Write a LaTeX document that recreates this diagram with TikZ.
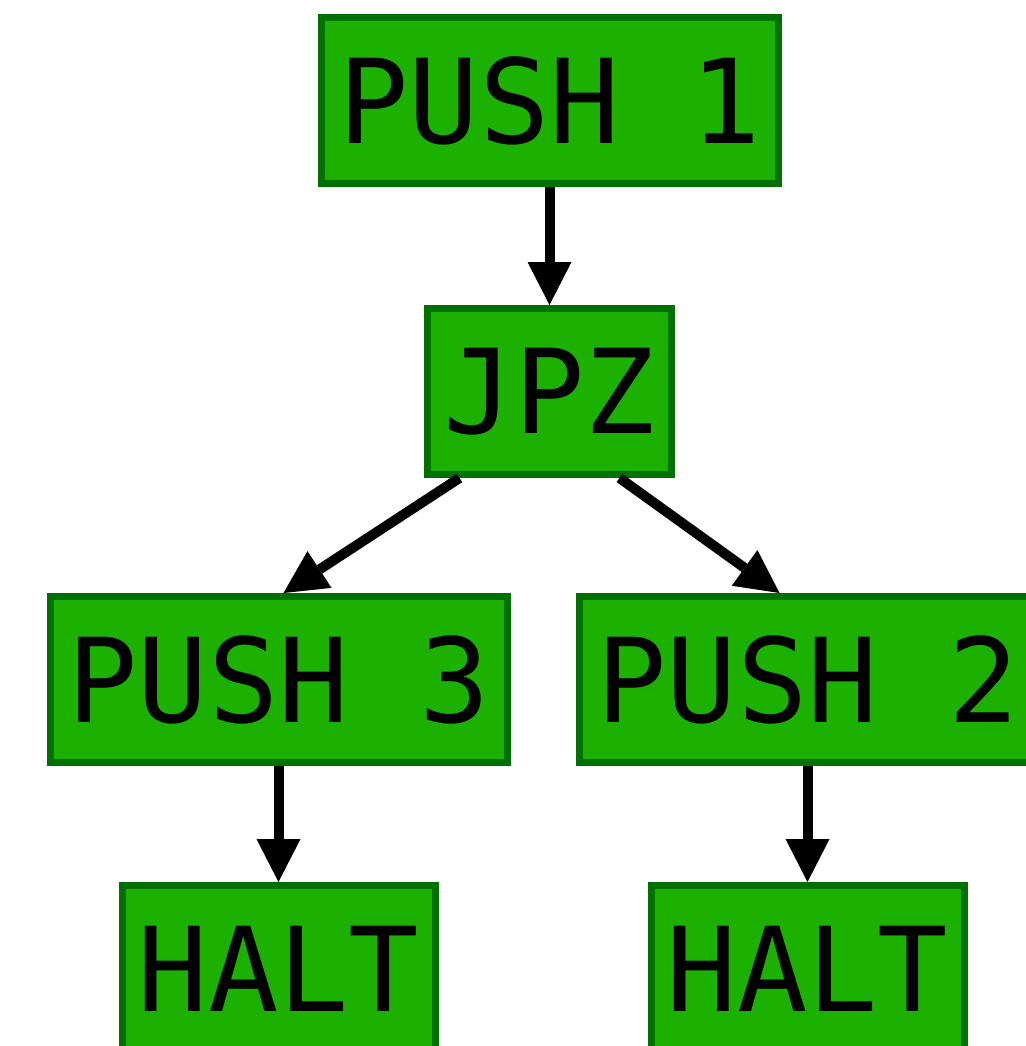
\documentclass[tikz,border=0pt]{standalone}
\usepackage{fontspec}
\newfontfamily\opfont{DejaVu Sans Mono}
\usetikzlibrary{positioning,arrows.meta}
\definecolor{opfill}{HTML}{1CB100}
\definecolor{opline}{HTML}{007000}
\tikzset{
  op/.style={draw=opline, line width=7pt, fill=opfill, text=black,
    minimum height=166pt, inner xsep=0pt, inner ysep=0pt,
    font=\opfont\fontsize{117pt}{117pt}\selectfont},
  arr/.style={-{Triangle[length=43pt,width=44pt,line width=0pt]}, line width=10pt, color=black},
}

\begin{document}
\begin{tikzpicture}[x=1pt,y=1pt]
  \useasboundingbox (0,0) rectangle (1025,-1046);
  % instruction nodes, one rank per row
  \node[op, minimum width=457pt] (push1) at (549.5,-100.5) {PUSH 1};
  \node[op, minimum width=244pt, below=118pt of push1] (jpz) {JPZ};
  \node[op, minimum width=457pt] (push3) at (278.5,-679.5) {PUSH 3};
  \node[op, minimum width=457pt, right=65pt of push3] (push2) {PUSH 2};
  \node[op, minimum width=313pt, below=116pt of push3] (halt3) {HALT};
  \node[op, minimum width=313pt, below=116pt of push2] (halt2) {HALT};
  % control flow
  \draw[arr] (push1) -- (jpz);
  \draw[arr] ([xshift=-90pt]jpz.south) -- ([xshift=5pt]push3.north);
  \draw[arr] ([xshift=70pt]jpz.south) -- ([xshift=-28pt]push2.north);
  \draw[arr] (push3) -- (halt3);
  \draw[arr] (push2) -- (halt2);
\end{tikzpicture}
\end{document}
